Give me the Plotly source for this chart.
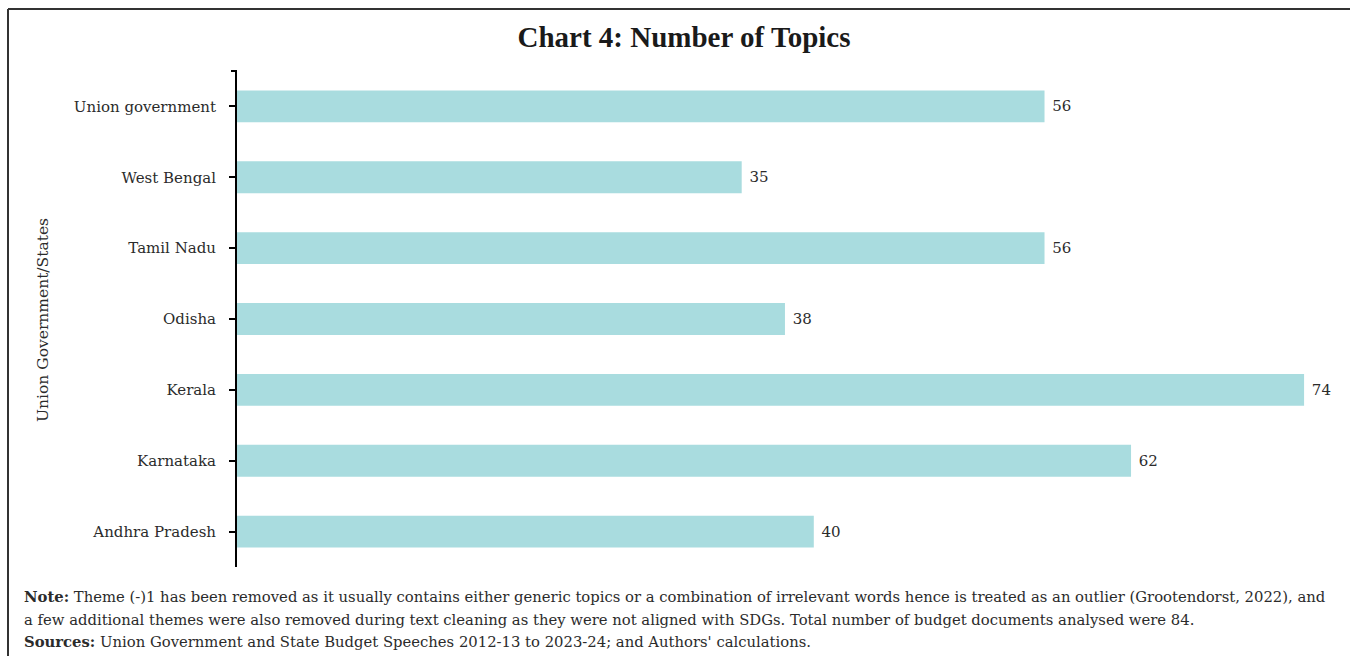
import plotly.graph_objects as go

categories = ["Andhra Pradesh", "Karnataka", "Kerala", "Odisha", "Tamil Nadu", "West Bengal", "Union government"]
topics = [40, 62, 74, 38, 56, 35, 56]

title_text = "Chart 4: Number of Topics"
y_title = "Union Government/States"
note_lines = [
    "<b>Note:</b> Theme (-)1 has been removed as it usually contains either generic topics or a combination of irrelevant words hence is treated as an outlier (Grootendorst, 2022), and",
    "a few additional themes were also removed during text cleaning as they were not aligned with SDGs. Total number of budget documents analysed were 84.",
    "<b>Sources:</b> Union Government and State Budget Speeches 2012-13 to 2023-24; and Authors' calculations.",
]

W, H = 1350, 656
L, R, T, B = 237, 10, 71, 89
pw = W - L - R
ph = H - T - B

def px_x(px):
    return (px - L) / pw

def px_y(py):
    return (H - B - py) / ph

FONT = "DejaVu Serif"
TXT = "#2b2b2b"

fig = go.Figure(go.Bar(
    x=topics, y=categories, orientation="h",
    marker=dict(color="#a9dcdf", line=dict(width=0)),
    texttemplate=" %{x}", textposition="outside",
    textfont=dict(family=FONT, size=15, color=TXT),
    cliponaxis=False, width=0.45,
))

fig.update_layout(
    width=W, height=H,
    margin=dict(l=L, r=R, t=T, b=B),
    paper_bgcolor="white", plot_bgcolor="white",
    showlegend=False,
    title=dict(text=f"<b>{title_text}</b>", x=684 / W, xanchor="center",
               y=1 - 37 / H, yanchor="middle",
               font=dict(family="Liberation Serif", size=29, color="#1a1a1a")),
    xaxis=dict(range=[0, pw / 14.42], visible=False, showgrid=False, zeroline=False),
    yaxis=dict(range=[-0.5, 6.5], showgrid=False, zeroline=False,
               showline=True, linecolor="black", linewidth=2,
               ticks="outside", ticklen=6, tickcolor="black", tickwidth=1.5,
               ticklabelstandoff=10,
               tickfont=dict(family=FONT, size=15, color=TXT)),
)

shapes = [
    dict(type="line", xref="paper", yref="paper", x0=px_x(231), x1=px_x(237), y0=1, y1=1,
         line=dict(color="black", width=2)),
    dict(type="line", xref="paper", yref="paper", x0=px_x(8), x1=px_x(1360), y0=px_y(9), y1=px_y(9),
         line=dict(color="#333333", width=2)),
    dict(type="line", xref="paper", yref="paper", x0=px_x(8), x1=px_x(8), y0=px_y(9), y1=px_y(670),
         line=dict(color="#333333", width=2)),
]

annotations = [
    dict(text=y_title, xref="paper", yref="paper", x=px_x(43), y=px_y(320),
         textangle=-90, showarrow=False, xanchor="center", yanchor="middle",
         font=dict(family=FONT, size=15.5, color=TXT)),
]
for i, (line, yc) in enumerate(zip(note_lines, [596, 619, 641])):
    annotations.append(dict(text=line, xref="paper", yref="paper", x=px_x(22), y=px_y(yc),
                            showarrow=False, xanchor="left", yanchor="middle", align="left",
                            font=dict(family=FONT, size=14.8, color=TXT)))

fig.update_layout(shapes=shapes, annotations=annotations)
fig.write_html("out.html")
